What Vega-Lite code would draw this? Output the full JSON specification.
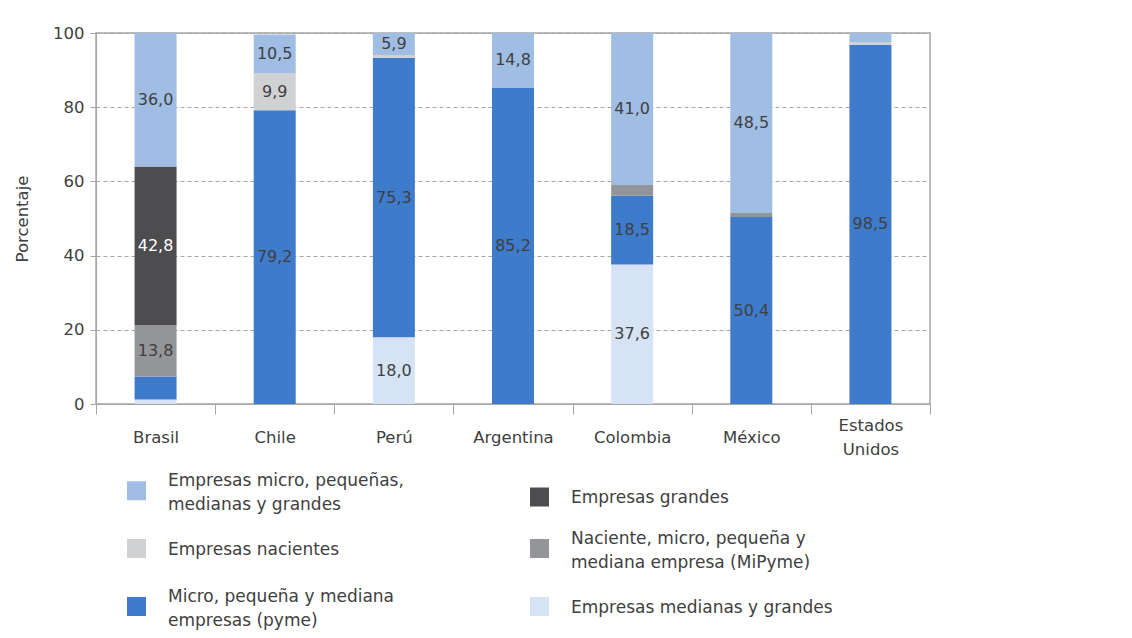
{
  "$schema": "https://vega.github.io/schema/vega-lite/v6.json",
  "width": 834,
  "height": 371,
  "autosize": "none",
  "padding": {"left": 96, "top": 33, "right": 202, "bottom": 234},
  "config": {
    "font": "DejaVu Sans",
    "view": {"stroke": "#A6A6A6", "strokeWidth": 1.5},
    "style": {"guide-label": {"lineHeight": 24}},
    "axis": {"labelFont": "DejaVu Sans", "labelFontSize": 16.5, "labelColor": "#404040", "domainColor": "#A6A6A6", "tickColor": "#A6A6A6", "titleFont": "DejaVu Sans", "titleFontSize": 16.5, "titleColor": "#404040", "titleFontWeight": "normal"},
    "legend": {"labelFont": "DejaVu Sans", "labelFontSize": 17, "labelColor": "#404040"}
  },
  "data": {
    "values": [
      {"country": "Brasil", "seg": "Empresas medianas y grandes", "rank": 1, "value": 1.2, "label": ""},
      {"country": "Brasil", "seg": "Micro, pequeña y mediana empresas (pyme)", "rank": 2, "value": 6.2, "label": ""},
      {"country": "Brasil", "seg": "Naciente, micro, pequeña y mediana empresa (MiPyme)", "rank": 3, "value": 13.8, "label": "13,8"},
      {"country": "Brasil", "seg": "Empresas grandes", "rank": 4, "value": 42.8, "label": "42,8"},
      {"country": "Brasil", "seg": "Empresas micro, pequeñas, medianas y grandes", "rank": 6, "value": 36.0, "label": "36,0"},
      {"country": "Chile", "seg": "Micro, pequeña y mediana empresas (pyme)", "rank": 2, "value": 79.2, "label": "79,2"},
      {"country": "Chile", "seg": "Empresas nacientes", "rank": 5, "value": 9.9, "label": "9,9"},
      {"country": "Chile", "seg": "Empresas micro, pequeñas, medianas y grandes", "rank": 6, "value": 10.5, "label": "10,5"},
      {"country": "Perú", "seg": "Empresas medianas y grandes", "rank": 1, "value": 18.0, "label": "18,0"},
      {"country": "Perú", "seg": "Micro, pequeña y mediana empresas (pyme)", "rank": 2, "value": 75.3, "label": "75,3"},
      {"country": "Perú", "seg": "Empresas nacientes", "rank": 5, "value": 0.8, "label": ""},
      {"country": "Perú", "seg": "Empresas micro, pequeñas, medianas y grandes", "rank": 6, "value": 5.9, "label": "5,9"},
      {"country": "Argentina", "seg": "Micro, pequeña y mediana empresas (pyme)", "rank": 2, "value": 85.2, "label": "85,2"},
      {"country": "Argentina", "seg": "Empresas micro, pequeñas, medianas y grandes", "rank": 6, "value": 14.8, "label": "14,8"},
      {"country": "Colombia", "seg": "Empresas medianas y grandes", "rank": 1, "value": 37.6, "label": "37,6"},
      {"country": "Colombia", "seg": "Micro, pequeña y mediana empresas (pyme)", "rank": 2, "value": 18.5, "label": "18,5"},
      {"country": "Colombia", "seg": "Naciente, micro, pequeña y mediana empresa (MiPyme)", "rank": 3, "value": 2.9, "label": ""},
      {"country": "Colombia", "seg": "Empresas micro, pequeñas, medianas y grandes", "rank": 6, "value": 41.0, "label": "41,0"},
      {"country": "México", "seg": "Micro, pequeña y mediana empresas (pyme)", "rank": 2, "value": 50.4, "label": "50,4"},
      {"country": "México", "seg": "Naciente, micro, pequeña y mediana empresa (MiPyme)", "rank": 3, "value": 1.1, "label": ""},
      {"country": "México", "seg": "Empresas micro, pequeñas, medianas y grandes", "rank": 6, "value": 48.5, "label": "48,5"},
      {"country": "Estados Unidos", "seg": "Micro, pequeña y mediana empresas (pyme)", "rank": 2, "value": 96.8, "label": "98,5"},
      {"country": "Estados Unidos", "seg": "Empresas nacientes", "rank": 5, "value": 0.8, "label": ""},
      {"country": "Estados Unidos", "seg": "Empresas micro, pequeñas, medianas y grandes", "rank": 6, "value": 2.4, "label": ""}
    ]
  },
  "transform": [
    {"stack": "value", "groupby": ["country"], "sort": [{"field": "rank", "order": "ascending"}], "as": ["v0", "v1"]},
    {"calculate": "(datum.v0 + datum.v1) / 2", "as": "mid"}
  ],
  "encoding": {
    "x": {
      "field": "country",
      "type": "nominal",
      "sort": ["Brasil", "Chile", "Perú", "Argentina", "Colombia", "México", "Estados Unidos"],
      "scale": {"paddingInner": 0, "paddingOuter": 0},
      "axis": {
        "title": null,
        "labelAngle": 0,
        "tickBand": "extent",
        "tickSize": 10,
        "labelPadding": 23,
        "labelBaseline": {"condition": {"test": "datum.value == 'Estados Unidos'", "value": "line-bottom"}, "value": "middle"},
        "labelLineHeight": 24,
        "labelExpr": "datum.label == 'Estados Unidos' ? ['Estados', 'Unidos'] : datum.label"
      }
    }
  },
  "layer": [
    {
      "mark": {"type": "bar", "size": 42},
      "encoding": {
        "y": {
          "field": "v0",
          "type": "quantitative",
          "scale": {"domain": [0, 100]},
          "axis": {
            "title": "Porcentaje",
            "values": [0, 20, 40, 60, 80, 100],
            "tickSize": 6,
            "labelPadding": 6,
            "titlePadding": 22,
            "gridDash": [4, 3],
            "gridColor": "#A6A6A6",
            "gridWidth": 1
          }
        },
        "y2": {"field": "v1"},
        "color": {
          "field": "seg",
          "type": "nominal",
          "scale": {
            "domain": [
              "Empresas micro, pequeñas, medianas y grandes",
              "Empresas nacientes",
              "Micro, pequeña y mediana empresas (pyme)",
              "Empresas grandes",
              "Naciente, micro, pequeña y mediana empresa (MiPyme)",
              "Empresas medianas y grandes"
            ],
            "range": ["#A0BEE4", "#D0D1D3", "#3E7BCB", "#4D4D4F", "#939598", "#D6E3F4"]
          },
          "legend": {
            "title": null,
            "orient": "none",
            "legendX": 31,
            "legendY": 448,
            "columns": 2,
            "symbolType": "square",
            "symbolSize": 361,
            "symbolStrokeWidth": 0,
            "symbolOpacity": 1,
            "labelLimit": 400,
            "labelOffset": 22,
            "columnPadding": 126,
            "rowPadding": 16,
            "labelExpr": "datum.label == 'Empresas micro, pequeñas, medianas y grandes' ? ['Empresas micro, pequeñas,', 'medianas y grandes'] : datum.label == 'Naciente, micro, pequeña y mediana empresa (MiPyme)' ? ['Naciente, micro, pequeña y', 'mediana empresa (MiPyme)'] : datum.label == 'Micro, pequeña y mediana empresas (pyme)' ? ['Micro, pequeña y mediana', 'empresas (pyme)'] : datum.label",
            "encode": {
              "labels": {
                "update": {
                  "dy": {"signal": "datum.label == 'Empresas micro, pequeñas, medianas y grandes' || datum.label == 'Naciente, micro, pequeña y mediana empresa (MiPyme)' || datum.label == 'Micro, pequeña y mediana empresas (pyme)' ? -10 : 1"}
                }
              }
            }
          }
        }
      }
    },
    {
      "mark": {"type": "text", "fontSize": 16, "font": "DejaVu Sans", "baseline": "middle"},
      "encoding": {
        "y": {"field": "mid", "type": "quantitative"},
        "text": {"field": "label"},
        "color": {
          "condition": {"test": "datum.seg === 'Empresas grandes'", "value": "white"},
          "value": "#404040"
        }
      }
    }
  ]
}
